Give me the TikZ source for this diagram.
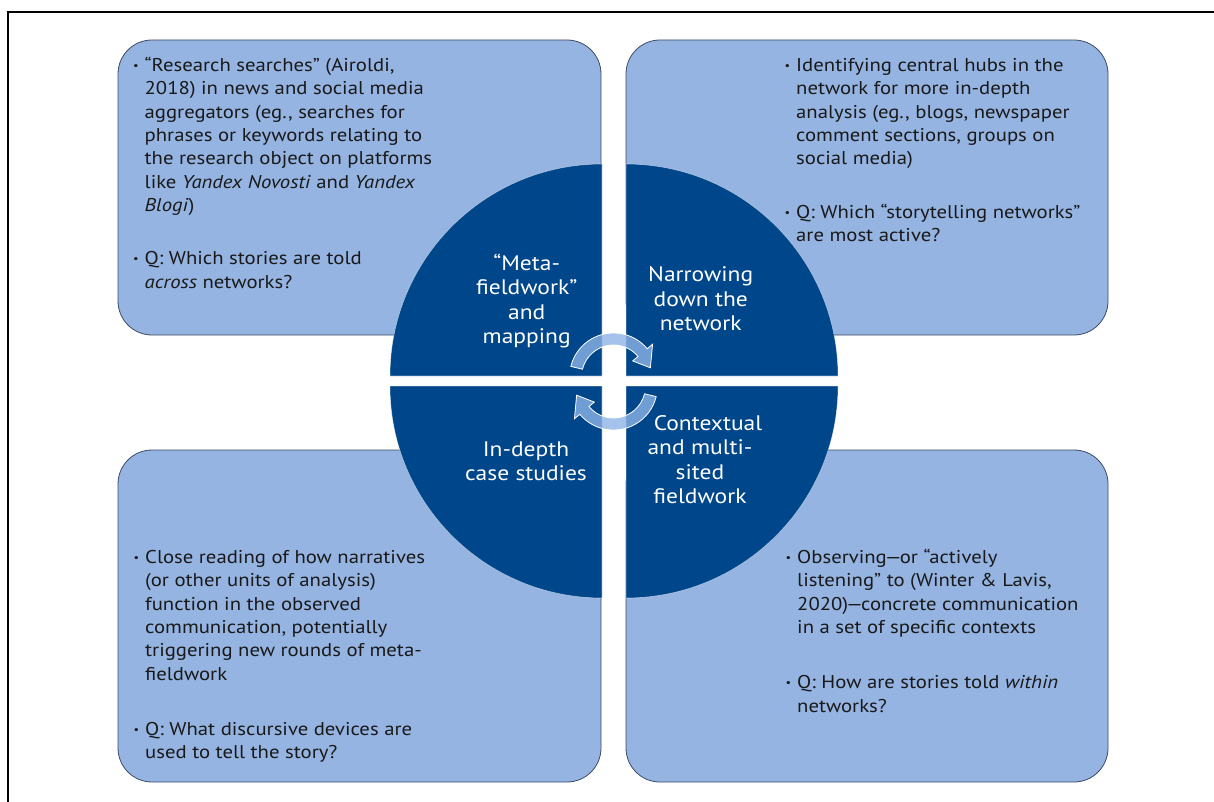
\documentclass[tikz,border=0pt]{standalone}
\usepackage{fontspec}
\setmainfont[FakeStretch=1.12]{PT Sans}
\usetikzlibrary{calc}
\definecolor{boxblue}{HTML}{95B4E2}
\definecolor{darkblue}{HTML}{00468A}
\definecolor{boxline}{HTML}{3C4B66}
\definecolor{arrowblue}{HTML}{8DB3E6}
\newcommand{\bul}{\leavevmode\llap{\raisebox{2pt}{\fontsize{11}{11}\selectfont •}\hspace{6pt}}}
\begin{document}
\begin{tikzpicture}[x=1pt,y=-1pt,
  infobox/.style={fill=boxblue,draw=boxline,line width=0.8pt,rounded corners=34pt},
  quad/.style={fill=darkblue,draw=white,draw opacity=0.5,line width=0.6pt},
  cyc/.style={fill=arrowblue,fill opacity=0.8,draw=white,line width=0.8pt},
  boxtext/.style={anchor=base west,inner sep=0pt,font=\fontsize{18.5}{23.3}\selectfont,text=black!90},
  quadlabel/.style={anchor=base,inner sep=0pt,text=white,font=\fontsize{21}{24.5}\selectfont}]
\useasboundingbox (0,0) rectangle (1214,802);
% frame
\draw[line width=1.2pt] (1214,12) -- (8,12) -- (8,802);
% boxes
\path[infobox] (118,40) rectangle (601,335);
\path[infobox] (626,40) rectangle (1108,335);
\path[infobox] (118,450) rectangle (601,782);
\path[infobox] (626,450) rectangle (1108,782);
% box texts
\node[boxtext] (tltext) at (144.5,71.7) {\parbox[t]{450pt}{\bul “Research searches” (Airoldi,\\2018) in news and social media\\aggregators (eg., searches for\\phrases or keywords relating to\\the research object on platforms\\like \textit{Yandex Novosti} and \textit{Yandex}\\\textit{Blogi})\\[30pt]\bul Q: Which stories are told\\\textit{across} networks?}};
\node[boxtext] (trtext) at (796,71.7) {\parbox[t]{400pt}{\bul Identifying central hubs in the\\network for more in-depth\\analysis (eg., blogs, newspaper\\comment sections, groups on\\social media)\\[30pt]\bul Q: Which “storytelling networks”\\are most active?}};
\node[boxtext] (bltext) at (145,563.5) {\parbox[t]{450pt}{\bul Close reading of how narratives\\(or other units of analysis)\\function in the observed\\communication, potentially\\triggering new rounds of meta-\\fieldwork\\[32pt]\bul Q: What discursive devices are\\used to tell the story?}};
\node[boxtext] (brtext) at (797,563.5) {\parbox[t]{400pt}{\bul Observing\kern-2pt—\kern-2pt or “actively\\listening” to (Winter \& Lavis,\\2020)\kern-2pt—\kern-2pt concrete communication\\in a set of specific contexts\\[32pt]\bul Q: How are stories told \textit{within}\\networks?}};
% quadrants
\path[quad] (602,376) -- (390,376) arc[start angle=180,end angle=270,radius=212] -- cycle;
\path[quad] (626,376) -- (626,164) arc[start angle=270,end angle=360,radius=212] -- cycle;
\path[quad] (626,386) -- (838,386) arc[start angle=0,end angle=90,radius=212] -- cycle;
\path[quad] (602,386) -- (602,598) arc[start angle=90,end angle=180,radius=212] -- cycle;
% quadrant labels
\node[quadlabel] (qtl) at (526.7,270) {\parbox[t]{200pt}{\centering “Meta-\\fieldwork”\\and\\mapping}};
\node[quadlabel] (qtr) at (700.7,281.7) {\parbox[t]{200pt}{\centering Narrowing\\down the\\network}};
\node[quadlabel] (qbl) at (526,456) {\parbox[t]{200pt}{\centering In-depth\\case studies}};
\node[quadlabel] (qbr) at (700,430) {\parbox[t]{200pt}{\centering \hspace*{16pt}Contextual\\and multi-\\sited\\fieldwork}};
% cycle arrows
\coordinate (c1) at (613.5,377);
\coordinate (c2) at (613.5,386);
\path[cyc] ([shift={(194:32)}]c1) -- ([shift={(194:44)}]c1) arc[start angle=194,end angle=320,radius=44]
  -- ([shift={(320:51)}]c1) -- ([shift={(346:38)}]c1) -- ([shift={(320:25)}]c1)
  -- ([shift={(320:32)}]c1) arc[start angle=320,end angle=194,radius=32] -- cycle;
\path[cyc] ([shift={(14:32)}]c2) -- ([shift={(14:44)}]c2) arc[start angle=14,end angle=140,radius=44]
  -- ([shift={(140:51)}]c2) -- ([shift={(166:38)}]c2) -- ([shift={(140:25)}]c2)
  -- ([shift={(140:32)}]c2) arc[start angle=140,end angle=14,radius=32] -- cycle;
\end{tikzpicture}
\end{document}
